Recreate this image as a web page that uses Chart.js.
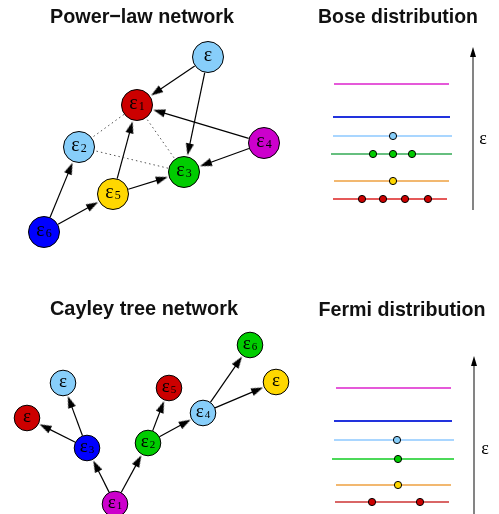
<!DOCTYPE html>
<html lang="en">
<head>
<meta charset="UTF-8">
<title>Network energy distributions</title>
<script src="https://cdn.jsdelivr.net/npm/chart.js"></script>
<style>
  html, body { margin: 0; padding: 0; background: #fff; overflow: hidden; }
  #wrap { width: 499px; height: 514px; position: relative; }
</style>
</head>
<body>
<div id="wrap"><canvas id="diagram"></canvas></div>
<script>
// Power-law network: node subscripts, positions, colours, edges
const plSub    = ['', '1', '2', '3', '4', '5', '6'];
const plX      = [208, 137, 79, 184, 264, 113, 44];
const plY      = [57, 105, 147, 172, 143, 194, 232];
const plColors = ['#87cefa', '#cc0000', '#87cefa', '#00cc00', '#cc00cc', '#ffd700', '#0000ff'];
const plArrows = [[0, 1], [0, 3], [4, 1], [4, 3], [5, 1], [5, 3], [6, 2], [6, 5]];
const plDotted = [[2, 1], [2, 3], [1, 3]];

// Cayley tree network
const ctSub    = ['1', '2', '3', '4', '5', '6', '', '', ''];
const ctX      = [115, 148, 87, 203, 169, 250, 63, 27, 276];
const ctY      = [504, 443, 448, 413, 388, 345, 383, 418, 382];
const ctColors = ['#cc00cc', '#00cc00', '#0000ff', '#87cefa', '#cc0000', '#00cc00', '#87cefa', '#cc0000', '#ffd700'];
const ctArrows = [[0, 2], [0, 1], [2, 6], [2, 7], [1, 4], [1, 3], [3, 5], [3, 8]];

// Bose distribution levels (top to bottom) and occupants
const boseLevelY  = [84, 117, 136, 154, 181, 199];
const boseLevelX0 = [334, 333, 333, 331, 334, 333];
const boseLevelX1 = [449, 450, 452, 452, 449, 447];
const boseColors  = ['#dd22cc', '#2233dd', '#8cc8ff', '#33aa55', '#eea040', '#dd2222'];
const boseDots    = [[], [], [393], [373, 393, 412], [393], [362, 383, 405, 428]];

// Fermi distribution levels and occupants
const fermiLevelY  = [388, 421, 440, 459, 485, 502];
const fermiLevelX0 = [336, 334, 334, 332, 336, 335];
const fermiLevelX1 = [451, 452, 454, 454, 451, 449];
const fermiColors  = ['#dd22cc', '#2233dd', '#8cc8ff', '#11cc22', '#eea040', '#cc3333'];
const fermiDots    = [[], [], [397], [398], [398], [372, 420]];

const dotColors = [null, null, '#87cefa', '#00cc00', '#ffd700', '#cc0000'];

// energy axes: x, bottom, top, label position
const energyAxes = [
  { x: 473, y0: 210, y1: 47, lx: 483, ly: 140 },
  { x: 474, y0: 520, y1: 356, lx: 485, ly: 450 }
];

const titles = [
  { text: 'Power\u2212law network', x: 142, y: 23, w: 184 },
  { text: 'Bose distribution', x: 398, y: 23, w: 160 },
  { text: 'Cayley tree network', x: 144, y: 315, w: 188 },
  { text: 'Fermi distribution', x: 402, y: 316, w: 167 }
];

function makeHead(w, h) {
  const c = document.createElement('canvas');
  c.width = w; c.height = h;
  const g = c.getContext('2d');
  g.fillStyle = '#000';
  g.beginPath();
  g.moveTo(w / 2, 0); g.lineTo(w, h); g.lineTo(0, h);
  g.closePath(); g.fill();
  return c;
}
const netHead = makeHead(8, 12);
const axisHead = makeHead(6, 10);

const datasets = [];
const heads = { pts: [], rot: [] };

function addEdges(xs, ys, r, pairs) {
  pairs.forEach(([a, b]) => {
    const dx = xs[b] - xs[a], dy = ys[b] - ys[a];
    const len = Math.hypot(dx, dy), ux = dx / len, uy = dy / len;
    const tx = xs[b] - ux * (r + 1), ty = ys[b] - uy * (r + 1);
    datasets.push({
      type: 'line', order: 3, clip: false,
      data: [{ x: xs[a] + ux * r, y: ys[a] + uy * r }, { x: tx - ux * 8, y: ty - uy * 8 }],
      borderColor: '#000', borderWidth: 1.2, pointRadius: 0
    });
    heads.pts.push({ x: tx - ux * 6, y: ty - uy * 6 });
    heads.rot.push(Math.atan2(ux, -uy) * 180 / Math.PI);
  });
}

plDotted.forEach(([a, b]) => {
  datasets.push({
    type: 'line', order: 3, clip: false,
    data: [{ x: plX[a], y: plY[a] }, { x: plX[b], y: plY[b] }],
    borderColor: '#555', borderWidth: 1, borderDash: [1.5, 3], pointRadius: 0
  });
});
addEdges(plX, plY, 16, plArrows);
addEdges(ctX, ctY, 13, ctArrows);

datasets.push({
  type: 'scatter', order: 1, clip: false,
  data: heads.pts, pointStyle: netHead, pointRotation: heads.rot, pointRadius: 6
});

datasets.push({
  type: 'scatter', order: 0, clip: false,
  data: plX.map((x, i) => ({ x: x, y: plY[i] })),
  backgroundColor: plColors, borderColor: '#000', borderWidth: 1, pointRadius: 15.5
});
datasets.push({
  type: 'scatter', order: 0, clip: false,
  data: ctX.map((x, i) => ({ x: x, y: ctY[i] })),
  backgroundColor: ctColors, borderColor: '#000', borderWidth: 1, pointRadius: 12.8
});

function addLevels(ly, x0, x1, cols, dots) {
  ly.forEach((y, i) => {
    datasets.push({
      type: 'line', order: 3, clip: false,
      data: [{ x: x0[i], y: y }, { x: x1[i], y: y }],
      borderColor: cols[i], borderWidth: i === 1 ? 2 : 1.6, pointRadius: 0
    });
    if (dots[i].length) {
      datasets.push({
        type: 'scatter', order: 1, clip: false,
        data: dots[i].map(x => ({ x: x, y: y })),
        backgroundColor: dotColors[i], borderColor: '#000', borderWidth: 1, pointRadius: 3.6
      });
    }
  });
}
addLevels(boseLevelY, boseLevelX0, boseLevelX1, boseColors, boseDots);
addLevels(fermiLevelY, fermiLevelX0, fermiLevelX1, fermiColors, fermiDots);

energyAxes.forEach(a => {
  datasets.push({
    type: 'line', order: 3, clip: false,
    data: [{ x: a.x, y: a.y0 }, { x: a.x, y: a.y1 + 6 }],
    borderColor: '#777', borderWidth: 1.8, pointRadius: 0
  });
  datasets.push({
    type: 'scatter', order: 1, clip: false,
    data: [{ x: a.x, y: a.y1 + 5 }], pointStyle: axisHead, pointRadius: 5
  });
});

const textPlugin = {
  id: 'diagramText',
  afterDatasetsDraw(chart) {
    const ctx = chart.ctx, sx = chart.scales.x, sy = chart.scales.y;
    ctx.save();
    ctx.fillStyle = '#000';
    ctx.textBaseline = 'alphabetic';

    function nodeLabel(x, y, sub, big, small) {
      const px = sx.getPixelForValue(x), py = sy.getPixelForValue(y);
      ctx.font = big + 'px "Liberation Serif"';
      const w1 = ctx.measureText('\u03b5').width;
      ctx.font = small + 'px "Liberation Serif"';
      const w2 = sub ? ctx.measureText(sub).width + 1 : 0;
      const left = px - (w1 + w2) / 2;
      ctx.textAlign = 'left';
      ctx.font = big + 'px "Liberation Serif"';
      ctx.fillText('\u03b5', left, py + 4);
      if (sub) {
        ctx.font = small + 'px "Liberation Serif"';
        ctx.fillText(sub, left + w1 + 1, py + 4.5);
      }
    }
    plX.forEach((x, i) => nodeLabel(x, plY[i], plSub[i], 20, 12));
    ctX.forEach((x, i) => nodeLabel(x, ctY[i], ctSub[i], 19, 11));

    ctx.textAlign = 'center';
    ctx.font = '18px "Liberation Serif"';
    energyAxes.forEach(a => {
      ctx.fillText('\u03b5', sx.getPixelForValue(a.lx), sy.getPixelForValue(a.ly) + 4);
    });

    ctx.fillStyle = '#111';
    ctx.font = 'bold 21px "Liberation Sans"';
    titles.forEach(t => {
      ctx.fillText(t.text, sx.getPixelForValue(t.x), sy.getPixelForValue(t.y), t.w);
    });
    ctx.restore();
  }
};

new Chart(document.getElementById('diagram').getContext('2d'), {
  type: 'scatter',
  data: { datasets: datasets },
  options: {
    responsive: true,
    maintainAspectRatio: false,
    animation: false,
    events: [],
    layout: { padding: 0, autoPadding: false },
    plugins: { legend: { display: false }, tooltip: { enabled: false } },
    scales: {
      x: { type: 'linear', min: 0, max: 499, display: false },
      y: { type: 'linear', min: 0, max: 514, reverse: true, display: false }
    }
  },
  plugins: [textPlugin]
});
</script>
</body>
</html>
